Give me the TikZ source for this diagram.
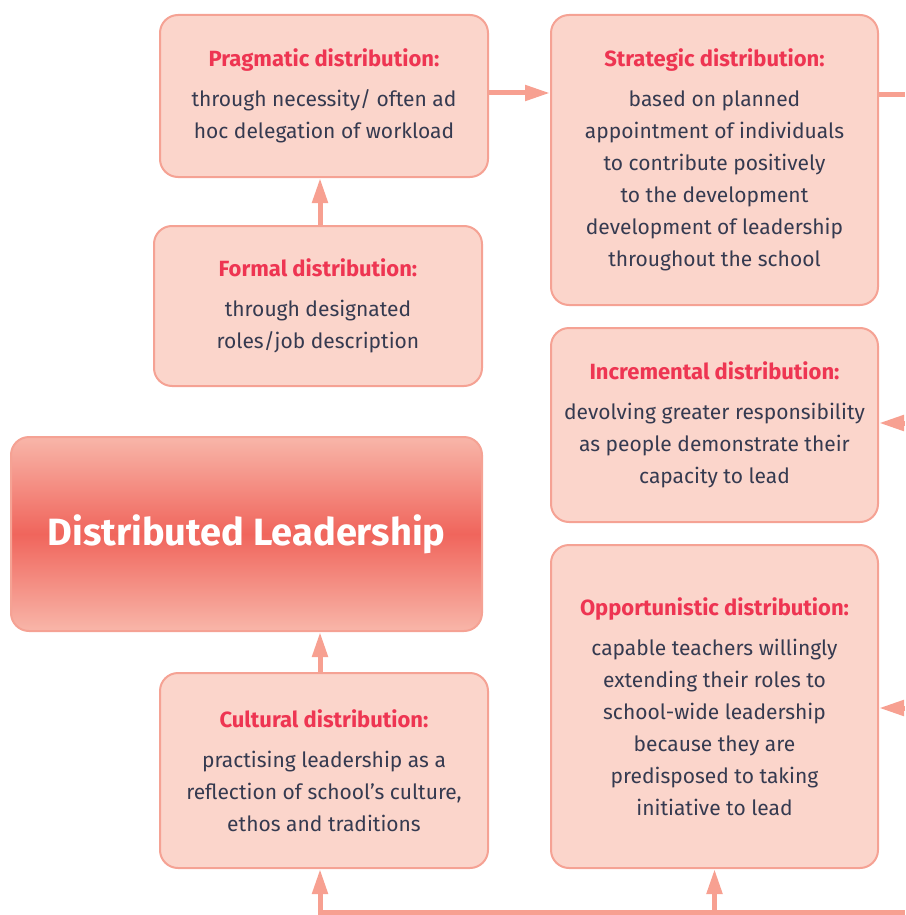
\documentclass[tikz,border=0pt]{standalone}
\usepackage{fontspec}
\setmainfont{Fira Sans}
\usetikzlibrary{arrows.meta}
\definecolor{boxfill}{HTML}{FBD5CB}
\definecolor{boxline}{HTML}{F5A294}
\definecolor{conncol}{HTML}{F7A091}
\definecolor{titlecol}{HTML}{EE3552}
\definecolor{bodycol}{HTML}{353A50}
\definecolor{dltop}{HTML}{F8B6A9}
\definecolor{dlmid}{HTML}{F0655C}
\begin{document}
\begin{tikzpicture}[x=1pt,y=-1pt,
  box/.style={draw=boxline, line width=2pt, fill=boxfill, rounded corners=18pt,
    align=center, inner sep=0pt, text=bodycol,
    font=\fontsize{21}{32}\selectfont},
  conn/.style={draw=conncol, line width=5pt},
  arr/.style={conn, -{Triangle[length=25pt,width=15pt]}}]
\useasboundingbox (0,0) rectangle (905,915);
\newcommand{\ttl}[1]{{\color{titlecol}\fontsize{22}{32}\selectfont\bfseries #1}\\[8pt]}
\node[box, minimum width=328pt, minimum height=162pt] (prag) at (324,96)
  {\ttl{Pragmatic distribution:}through necessity/ often ad\\hoc delegation of workload};
\node[box, minimum width=327pt, minimum height=290pt] (strat) at (714.5,160)
  {\ttl{Strategic distribution:}based on planned\\appointment of individuals\\to contribute positively\\to the development\\development of leadership\\throughout the school};
\node[box, minimum width=328pt, minimum height=160pt] (formal) at (318,306)
  {\ttl{Formal distribution:}through designated\\roles/job description};
\node[box, minimum width=327pt, minimum height=194pt] (incr) at (714.5,425)
  {\ttl{Incremental distribution:}devolving greater responsibility\\as people demonstrate their\\capacity to lead};
\node[draw=boxline, line width=2pt, rounded corners=18pt,
  top color=dltop, bottom color=dltop, middle color=dlmid,
  minimum width=471pt, minimum height=194pt, text=white,
  font=\fontsize{38}{42}\selectfont\bfseries] (dl) at (246.5,534) {Distributed Leadership};
\node[box, minimum width=328pt, minimum height=195pt] (cult) at (324,770.5)
  {\ttl{Cultural distribution:}practising leadership as a\\reflection of school's culture,\\ethos and traditions};
\node[box, minimum width=327pt, minimum height=323pt] (opp) at (714.5,706.5)
  {\ttl{Opportunistic distribution:}capable teachers willingly\\extending their roles to\\school-wide leadership\\because they are\\predisposed to taking\\initiative to lead};
\coordinate (r1) at (905,95);
\coordinate (r2) at (905,423);
\coordinate (r3) at (905,708);
\coordinate (b1) at (320,912);
\coordinate (b2) at (905,912);
\coordinate (b3) at (714.5,912);
\draw[arr] (formal.north -| b1) -- (prag.south -| b1);
\draw[arr] (prag.east |- 0,93) -- (strat.west |- 0,93);
\draw[conn] (strat.east |- r1) -- (r1);
\draw[arr] (r2) -- (incr.east |- r2);
\draw[arr] (r3) -- (opp.east |- r3);
\draw[arr] (cult.north -| b1) -- (dl.south -| b1);
\draw[conn] (b2) -- (317.5,912);
\draw[arr] (b1) -- (cult.south -| b1);
\draw[arr] (b3) -- (opp.south);
\end{tikzpicture}
\end{document}
